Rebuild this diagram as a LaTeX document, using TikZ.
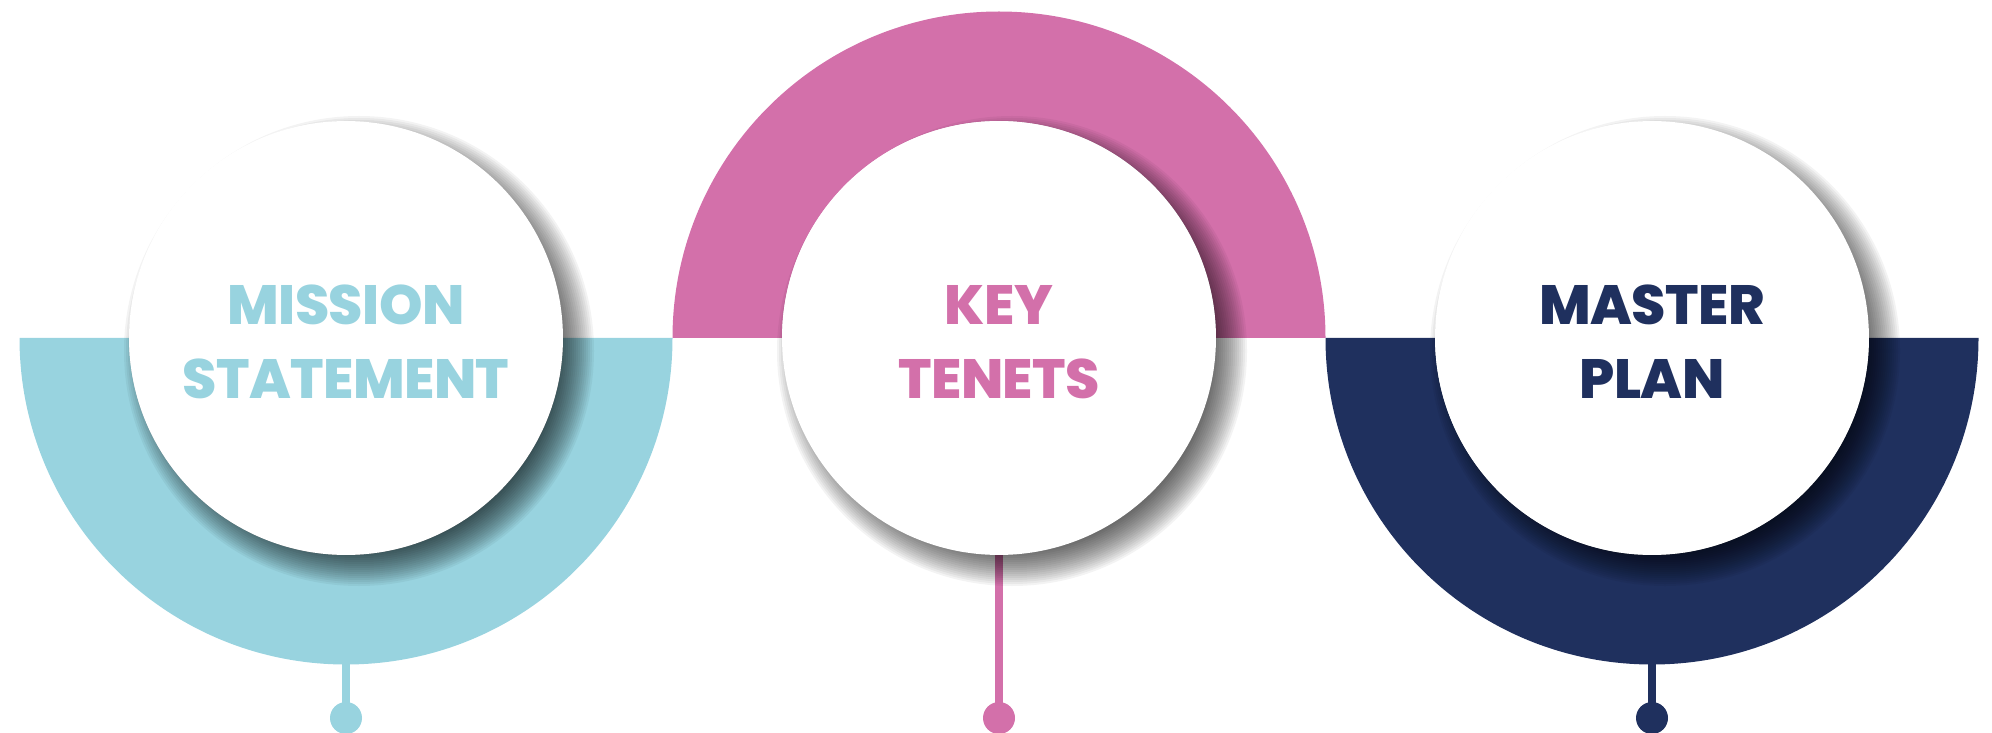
\documentclass[tikz,border=0pt]{standalone}
\usepackage{fontspec}
\setmainfont{Poppins}[BoldFont={Poppins ExtraBold}]
\definecolor{cblue}{HTML}{98D3DF}
\definecolor{cpink}{HTML}{D370AA}
\definecolor{cnavy}{HTML}{1F305E}
\tikzset{
  hub/.style={circle, fill=white, inner sep=0pt, minimum size=8.68cm},
  hubshadow/.style={fill=black, fill opacity=0.047},
  ttl/.style={text=#1, font=\bfseries\fontsize{31.5}{42}\selectfont\addfontfeatures{LetterSpace=-1}, align=center},
  dotn/.style={circle, fill=#1, inner sep=0pt, minimum size=0.64cm},
  stem/.style={draw=#1, line width=4.5pt}
}
\begin{document}
\begin{tikzpicture}[x=0.02cm,y=0.02cm]
\useasboundingbox (0,0) rectangle (1992,-733);
\coordinate (o1) at (346,-338);
\coordinate (o2) at (999,-338);
\coordinate (o3) at (1652,-338);
% bands
\fill[cblue] (19.5,-338) arc[start angle=180, end angle=360, radius=326.5] -- (563,-338) arc[start angle=0, end angle=-180, radius=217] -- cycle;
\fill[cpink] (672.5,-338) arc[start angle=180, end angle=0, radius=326.5] -- (1216,-338) arc[start angle=0, end angle=180, radius=217] -- cycle;
\fill[cnavy] (1325.5,-338) arc[start angle=180, end angle=360, radius=326.5] -- (1869,-338) arc[start angle=0, end angle=-180, radius=217] -- cycle;
% dots and stems
\coordinate (b1) at (346,-662);
\coordinate (b2) at (999,-500);
\coordinate (b3) at (1652,-662);
\node[dotn=cblue] (d1) at (346,-718) {};
\node[dotn=cpink] (d2) at (999,-718) {};
\node[dotn=cnavy] (d3) at (1652,-718) {};
\draw[stem=cblue] (b1) -- (d1.center);
\draw[stem=cpink] (b2) -- (d2.center);
\draw[stem=cnavy] (b3) -- (d3.center);
% shadows (stacked translucent discs)
\foreach \o in {o1,o2,o3}{
  \foreach \k in {0,...,18}{
    \fill[hubshadow] ([shift={(13,-13)}]\o) circle ({199+2*\k});
  }
}
% hubs
\node[hub] (c1) at (o1) {};
\node[hub] (c2) at (o2) {};
\node[hub] (c3) at (o3) {};
\node[ttl=cblue] (t1) at (346,-342) {MISSION\\STATEMENT};
\node[ttl=cpink] (t2) at (999,-342) {KEY\\TENETS};
\node[ttl=cnavy] (t3) at (1652,-342) {MASTER\\PLAN};
\end{tikzpicture}
\end{document}
